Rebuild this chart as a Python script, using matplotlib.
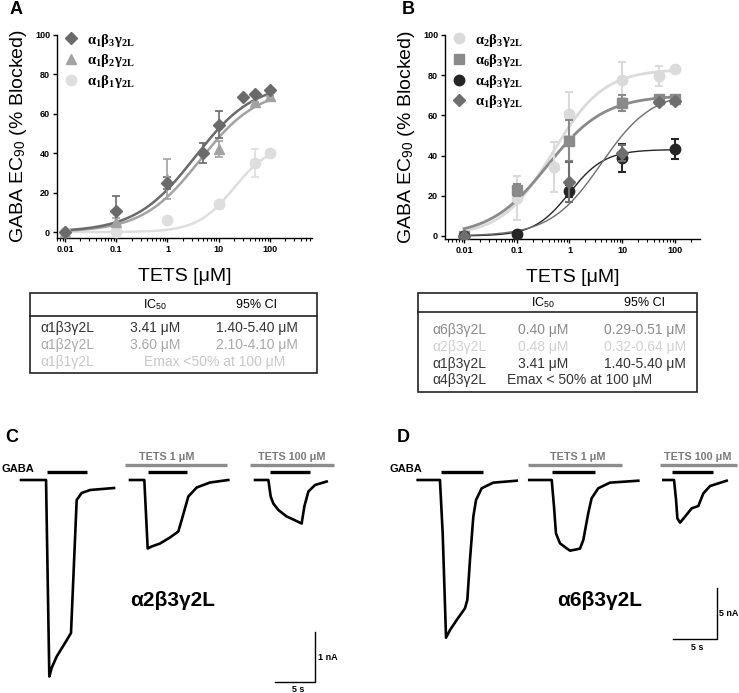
import numpy as np
import matplotlib
matplotlib.use("Agg")
import matplotlib.pyplot as plt
from matplotlib.lines import Line2D
from matplotlib.patches import Rectangle

plt.rcParams['font.family'] = ['Liberation Sans', 'DejaVu Sans']
plt.rcParams['mathtext.fontset'] = 'custom'
plt.rcParams['mathtext.rm'] = 'Liberation Serif:bold'
plt.rcParams['mathtext.it'] = 'Liberation Serif:bold:italic'
plt.rcParams['mathtext.bf'] = 'Liberation Serif:bold'
plt.rcParams['mathtext.sf'] = 'Liberation Sans'

W, H = 739, 693

# ---------------- Data: panel A ----------------
a_names = [r'$\mathrm{\alpha_1\beta_3\gamma_{2L}}$', r'$\mathrm{\alpha_1\beta_2\gamma_{2L}}$', r'$\mathrm{\alpha_1\beta_1\gamma_{2L}}$']
a13_x = [0.01, 0.1, 1, 5, 10, 30, 50, 100]
a13_y = [0, 10.5, 25, 40, 54.5, 68.5, 70, 72]
a13_e = [0, 8, 3, 5, 7, 0, 0, 0]
a12_x = [0.01, 0.1, 1, 10, 50, 100]
a12_y = [0, 5, 27, 42, 66, 69]
a12_e = [0, 2, 10, 4, 0, 0]
a11_x = [0.01, 0.1, 1, 10, 50, 100]
a11_y = [0, 0, 6, 14.5, 35, 40]
a11_e = [0, 0, 0, 0, 7, 0]
# Hill fit parameters (top, IC50, slope)
a_fit = [(76, 3.41, 0.75), (73, 4.3, 0.77), (45, 20.0, 1.2)]

# ---------------- Data: panel B ----------------
b_names = [r'$\mathrm{\alpha_2\beta_3\gamma_{2L}}$', r'$\mathrm{\alpha_6\beta_3\gamma_{2L}}$',
           r'$\mathrm{\alpha_4\beta_3\gamma_{2L}}$', r'$\mathrm{\alpha_1\beta_3\gamma_{2L}}$']
b2_x = [0.01, 0.1, 0.5, 1, 10, 50, 100]
b2_y = [0, 19, 34.5, 60.5, 77.5, 79.5, 83]
b2_e = [0, 11, 12.5, 11, 9, 5, 0]
b6_x = [0.01, 0.1, 1, 10, 50, 100]
b6_y = [0, 23, 47.5, 66, 68, 68]
b6_e = [0, 3, 10, 4, 1, 0]
b4_x = [0.01, 0.1, 1, 10, 100]
b4_y = [0, 1, 22.5, 39, 43.5]
b4_e = [0, 0, 3, 7, 5]
b1_x = [0.01, 1, 10, 50, 100]
b1_y = [0, 27, 41.5, 66.5, 67]
b1_e = [0, 10, 4, 0, 0]
b_fit = [(83, 0.48, 0.9), (70, 0.38, 0.8), (43, 1.0, 1.3), (72, 4.0, 0.9)]

# ---------------- Tables ----------------
tab_head = ['IC$_{\\mathsf{50}}$', '95% CI']
tabA_rows = [['α1β3γ2L', '3.41 μM', '1.40-5.40 μM'],
             ['α1β2γ2L', '3.60 μM', '2.10-4.10 μM'],
             ['α1β1γ2L', 'Emax <50% at 100 μM', None]]
tabB_rows = [['α6β3γ2L', '0.40 μM', '0.29-0.51 μM'],
             ['α2β3γ2L', '0.48 μM', '0.32-0.64 μM'],
             ['α1β3γ2L', '3.41 μM', '1.40-5.40 μM'],
             ['α4β3γ2L', 'Emax < 50% at 100 μM', None]]

# ---------------- Traces (time s, current nA) ----------------
c1_t = [0, 3.13, 3.54, 3.83, 4.46, 5.5, 6.25, 6.96, 7.58, 8.63, 11.63]
c1_i = [0, 0, -3.93, -3.76, -3.53, -3.26, -3.06, -0.4, -0.26, -0.2, -0.16]
c2_t = [0, 1.79, 2.21, 2.71, 3.75, 5.0, 6.04, 6.46, 7.29, 8.34, 10.0, 12.29]
c2_i = [0, 0, -1.37, -1.33, -1.27, -1.15, -1.03, -0.8, -0.33, -0.15, -0.05, 0]
c3_t = [0, 1.67, 1.96, 2.29, 2.92, 3.96, 4.79, 5.83, 6.17, 6.67, 7.5, 8.96]
c3_i = [0, 0, -0.33, -0.47, -0.6, -0.73, -0.79, -0.87, -0.53, -0.23, -0.1, -0.03]
d1_t = [0, 2.53, 2.84, 3.22, 3.67, 4.43, 5.37, 5.64, 5.94, 6.32, 6.63, 7.27, 8.59, 11.25]
d1_i = [0, 0, -5.23, -15.46, -14.71, -13.73, -12.58, -11.76, -7.84, -3.6, -1.96, -0.81, -0.26, -0.07]
d2_t = [0, 2.55, 2.81, 3.03, 3.49, 4.25, 4.63, 5.76, 6.14, 6.7, 7.08, 7.84, 9.17, 12.39]
d2_i = [0, 0, -2.61, -5.23, -6.21, -6.7, -6.93, -6.73, -5.88, -3.26, -1.8, -0.81, -0.26, -0.07]
d3_t = [0, 1.22, 1.45, 1.6, 1.9, 2.47, 3.22, 3.98, 4.25, 4.55, 5.31, 7.2]
d3_i = [0, 0, -1.96, -3.76, -4.18, -3.59, -2.78, -2.55, -1.96, -1.31, -0.59, -0.07]


def hill(x, top, ic50, n):
    return top / (1.0 + (ic50 / x) ** n)


def fax(x0, y0, x1, y1):
    return [x0 / W, 1 - y1 / H, (x1 - x0) / W, (y1 - y0) / H]


fig = plt.figure(figsize=(W / 100, H / 100), dpi=100)

def style_dr(ax, xlim, ylim):
    ax.set_xscale('log')
    ax.set_xlim(*xlim)
    ax.set_ylim(*ylim)
    for s in ['top', 'right']:
        ax.spines[s].set_visible(False)
    for s in ['left', 'bottom']:
        ax.spines[s].set_linewidth(1.0)
    ax.set_xticks([0.01, 0.1, 1, 10, 100])
    ax.set_xticklabels(['0.01', '0.1', '1', '10', '100'])
    ax.set_yticks([0, 20, 40, 60, 80, 100])
    ax.tick_params(labelsize=6.5, width=1, length=3, pad=2)
    ax.tick_params(which='minor', length=2, width=0.8)
    for lab in ax.get_xticklabels() + ax.get_yticklabels():
        lab.set_fontweight('bold')
    ax.set_xlabel('TETS [μM]', fontsize=14, labelpad=10)
    ax.set_ylabel('GABA EC$_{\\mathsf{90}}$ (% Blocked)', fontsize=14, labelpad=4)

xs = np.logspace(-2, 2, 300)

# ---- Panel A ----
axA = fig.add_axes(fax(57, 35, 312, 238))
style_dr(axA, (10 ** -2.156, 10 ** 2.82), (-3, 100))
colsA = ['#6a6a6a', '#a2a2a2', '#dedede']
mkA = ['D', '^', 'o']
msA = [6.5, 7, 7.5]
dataA = [(a13_x, a13_y, a13_e), (a12_x, a12_y, a12_e), (a11_x, a11_y, a11_e)]
for i in [2, 1, 0]:
    x, y, e = dataA[i]
    axA.plot(xs, hill(xs, *a_fit[i]), color=colsA[i], lw=1.8, zorder=2)
    axA.errorbar(x, y, yerr=e, fmt=mkA[i], color=colsA[i], ms=msA[i], capsize=3,
                 elinewidth=1.2, capthick=1.2, zorder=3)
handles = [Line2D([], [], marker=mkA[i], color=colsA[i], ls='', ms=msA[i]) for i in range(3)]
axA.legend(handles, a_names, loc='upper left', bbox_to_anchor=(-0.025, 1.06), frameon=False,
           fontsize=10.5, handletextpad=0.3, labelspacing=0.25, borderaxespad=0.2,
           handlelength=1.6)

# ---- Panel B ----
axB = fig.add_axes(fax(445, 35, 700, 239))
style_dr(axB, (10 ** -2.36, 10 ** 2.474), (-1.5, 100))
colsB = ['#dadada', '#8a8a8a', '#262626', '#6e6e6e']
mkB = ['o', 's', 'o', 'D']
msB = [7.5, 6.5, 7.5, 6.5]
lwB = [2.0, 2.0, 1.0, 1.0]
dataB = [(b2_x, b2_y, b2_e), (b6_x, b6_y, b6_e), (b4_x, b4_y, b4_e), (b1_x, b1_y, b1_e)]
for i in range(4):
    axB.plot(xs, hill(xs, *b_fit[i]), color=colsB[i], lw=lwB[i], zorder=2)
for i in range(4):
    x, y, e = dataB[i]
    axB.errorbar(x, y, yerr=e, fmt=mkB[i], color=colsB[i], ms=msB[i], capsize=3,
                 elinewidth=1.5, capthick=1.5, zorder=3 + i)
handles = [Line2D([], [], marker=mkB[i], color=colsB[i], ls='', ms=msB[i]) for i in range(4)]
axB.legend(handles, b_names, loc='upper left', bbox_to_anchor=(-0.025, 1.06), frameon=False,
           fontsize=10.5, handletextpad=0.3, labelspacing=0.25, borderaxespad=0.2,
           handlelength=1.6)

# ---- overlay for tables and labels ----
ov = fig.add_axes([0, 0, 1, 1])
ov.set_xlim(0, W)
ov.set_ylim(H, 0)
ov.axis('off')

ov.text(10, 9, 'A', fontsize=13, fontweight='bold', va='center', ha='left')
ov.text(402, 9, 'B', fontsize=13, fontweight='bold', va='center', ha='left')
ov.text(5, 438, 'C', fontsize=13, fontweight='bold', va='center', ha='left')
ov.text(397, 438, 'D', fontsize=13, fontweight='bold', va='center', ha='left')

# Table A
ov.add_patch(Rectangle((30, 293), 287, 80, fill=False, lw=1.2, ec='#222222'))
ov.plot([30, 317], [316, 316], color='#222222', lw=1.2)
ov.text(155, 305, tab_head[0], fontsize=9, ha='center', va='center')
ov.text(257, 305, tab_head[1], fontsize=9, ha='center', va='center')
colA_rows = ['#333333', '#a8a8a8', '#c8c8c8']
ysA = [328, 345, 362]
for r, yy, c in zip(tabA_rows, ysA, colA_rows):
    ov.text(40, yy, r[0], fontsize=10, ha='left', va='center', color=c)
    if r[2] is None:
        ov.text(215, yy, r[1], fontsize=10, ha='center', va='center', color=c)
    else:
        ov.text(155, yy, r[1], fontsize=10, ha='center', va='center', color=c)
        ov.text(257, yy, r[2], fontsize=10, ha='center', va='center', color=c)

# Table B
ov.add_patch(Rectangle((418, 293), 279, 99, fill=False, lw=1.2, ec='#222222'))
ov.plot([418, 697], [312, 312], color='#222222', lw=1.2)
ov.text(543, 303, tab_head[0], fontsize=9, ha='center', va='center')
ov.text(645, 303, tab_head[1], fontsize=9, ha='center', va='center')
colB_rows = ['#8a8a8a', '#d0d0d0', '#333333', '#333333']
ysB = [330, 347, 364, 380]
for r, yy, c in zip(tabB_rows, ysB, colB_rows):
    ov.text(432, yy, r[0], fontsize=10, ha='left', va='center', color=c)
    if r[2] is None:
        ov.text(580, yy, r[1], fontsize=10, ha='center', va='center', color=c)
    else:
        ov.text(543, yy, r[1], fontsize=10, ha='center', va='center', color=c)
        ov.text(645, yy, r[2], fontsize=10, ha='center', va='center', color=c)

# ---- Traces C ----
axC = fig.add_axes(fax(0, 400, 370, 693))
axC.set_xlim(0, 370 / 8.0)
axC.set_ylim(-213 / 50.0, 80 / 50.0)
axC.axis('off')
c_starts = [2.625, 16.25, 31.875]
for st, (t, i) in zip(c_starts, [(c1_t, c1_i), (c2_t, c2_i), (c3_t, c3_i)]):
    axC.plot(np.array(t) + st, i, color='black', lw=1.9, solid_joinstyle='round')
for a, b in [(5.875, 10.875), (18.5, 23.4), (33.75, 38.75)]:
    axC.plot([a, b], [0.16, 0.16], color='black', lw=2.4, solid_capstyle='butt')
for a, b in [(15.6, 28.4), (31.25, 41.75)]:
    axC.plot([a, b], [0.3, 0.3], color='#8c8c8c', lw=2.4, solid_capstyle='butt')
axC.plot([34.4, 39.4, 39.4], [-4.04, -4.04, -3.04], color='black', lw=1.0)

ov.text(1, 469, 'GABA', fontsize=8, fontweight='bold', ha='left', va='center')
ov.text(167, 457, 'TETS 1 μM', fontsize=7.8, fontweight='bold', ha='center', va='center', color='#7a7a7a')
ov.text(292, 457, 'TETS 100 μM', fontsize=7.8, fontweight='bold', ha='center', va='center', color='#7a7a7a')
ov.text(173, 600, 'α2β3γ2L', fontsize=15, fontweight='bold', ha='center', va='center')
ov.text(318, 657, '1 nA', fontsize=6.5, fontweight='bold', ha='left', va='center')
ov.text(298, 689, '5 s', fontsize=6.5, fontweight='bold', ha='center', va='center')

# ---- Traces D ----
axD = fig.add_axes(fax(370, 400, 739, 693))
axD.set_xlim(0, 369 / 8.8)
axD.set_ylim(-213 / 10.2, 80 / 10.2)
axD.axis('off')
d_starts = [5.42, 18.1, 33.33]
for st, (t, i) in zip(d_starts, [(d1_t, d1_i), (d2_t, d2_i), (d3_t, d3_i)]):
    axD.plot(np.array(t) + st, i, color='black', lw=1.9, solid_joinstyle='round')
for a, b in [(8.07, 12.84), (20.7, 25.6), (34.3, 39.0)]:
    axD.plot([a, b], [0.78, 0.78], color='black', lw=2.4, solid_capstyle='butt')
for a, b in [(17.95, 28.6), (32.95, 41.7)]:
    axD.plot([a, b], [1.47, 1.47], color='#8c8c8c', lw=2.4, solid_capstyle='butt')
axD.plot([34.43, 39.43, 39.43], [-15.59, -15.59, -10.59], color='black', lw=1.0)

ov.text(390, 469, 'GABA', fontsize=8, fontweight='bold', ha='left', va='center')
ov.text(578, 457, 'TETS 1 μM', fontsize=7.8, fontweight='bold', ha='center', va='center', color='#7a7a7a')
ov.text(698, 457, 'TETS 100 μM', fontsize=7.8, fontweight='bold', ha='center', va='center', color='#7a7a7a')
ov.text(600, 600, 'α6β3γ2L', fontsize=15, fontweight='bold', ha='center', va='center')
ov.text(719, 613, '5 nA', fontsize=6.5, fontweight='bold', ha='left', va='center')
ov.text(697, 647, '5 s', fontsize=6.5, fontweight='bold', ha='center', va='center')

fig.savefig('out.png', dpi=100)
